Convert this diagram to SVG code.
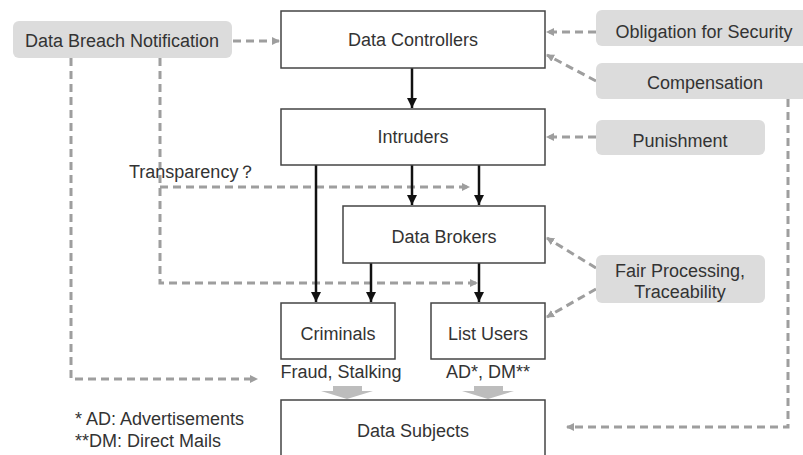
<svg xmlns="http://www.w3.org/2000/svg" width="803" height="455" viewBox="0 0 803 455">
<style>
text{font-family:"Liberation Sans",Arial,sans-serif;font-size:18px;fill:#333;}
.m{text-anchor:middle;}
.box{fill:#fff;stroke:#444;stroke-width:1.5;}
.tag{fill:#dcdcdc;stroke:none;}
.dash{fill:none;stroke:#9e9e9e;stroke-width:3;stroke-dasharray:8 5;}
.solid{fill:none;stroke:#111;stroke-width:2.5;}
.blk{fill:#bdbdbd;}
</style>
<defs>
<marker id="ga" markerWidth="10" markerHeight="10" refX="7" refY="4" orient="auto" markerUnits="userSpaceOnUse">
<path d="M0,0 L8,4 L0,8 Z" fill="#9e9e9e"/>
</marker>
<marker id="ba" markerWidth="12" markerHeight="12" refX="10" refY="5" orient="auto" markerUnits="userSpaceOnUse">
<path d="M0,0 L10,5 L0,10 Z" fill="#111"/>
</marker>
</defs>
<rect width="803" height="455" fill="#fff"/>

<g id="connectors">
<path class="dash" d="M233,41 H279" marker-end="url(#ga)"/>
<path class="dash" d="M596,32 H547" marker-end="url(#ga)"/>
<path class="dash" d="M596,81 L547,55" marker-end="url(#ga)"/>
<path class="dash" d="M596,137 H547" marker-end="url(#ga)"/>
<path class="dash" d="M788,99 V427 H567" marker-end="url(#ga)"/>
<path class="dash" d="M71,58 V379 H257" marker-end="url(#ga)"/>
<path class="dash" d="M160,58 V283 H477" marker-end="url(#ga)"/>
<path class="dash" d="M160,187 H469" marker-end="url(#ga)"/>
<path class="dash" d="M596,268 L547,238" marker-end="url(#ga)"/>
<path class="dash" d="M596,289 L547,317" marker-end="url(#ga)"/>
<path class="solid" d="M412,68 V108" marker-end="url(#ba)"/>
<path class="solid" d="M412,165 V205" marker-end="url(#ba)"/>
<path class="solid" d="M479,165 V205" marker-end="url(#ba)"/>
<path class="solid" d="M316,165 V302" marker-end="url(#ba)"/>
<path class="solid" d="M371,263 V302" marker-end="url(#ba)"/>
<path class="solid" d="M479,263 V302" marker-end="url(#ba)"/>
<path class="blk" d="M333,386 H362 V391 H373 L347,399 L321,391 H333 Z"/>
<path class="blk" d="M474,386 H503 V391 H514 L488,399 L462,391 H474 Z"/>
</g>

<g id="data-breach-notification">
<rect class="tag" x="13" y="21" width="219" height="37" rx="6"/>
<text class="m" x="122" y="47">Data Breach Notification</text>
</g>
<g id="data-controllers">
<rect class="box" x="281" y="11" width="264" height="57"/>
<text class="m" x="413" y="46">Data Controllers</text>
</g>
<g id="obligation-for-security">
<rect class="tag" x="596" y="10" width="212" height="36" rx="6"/>
<text class="m" x="704" y="38">Obligation for Security</text>
</g>
<g id="compensation">
<rect class="tag" x="596" y="63" width="212" height="36" rx="6"/>
<text class="m" x="705" y="89">Compensation</text>
</g>
<g id="intruders">
<rect class="box" x="281" y="109" width="264" height="56"/>
<text class="m" x="413" y="143">Intruders</text>
</g>
<g id="punishment">
<rect class="tag" x="596" y="120" width="169" height="35" rx="6"/>
<text class="m" x="680" y="147">Punishment</text>
</g>
<g id="transparency">
<text x="129" y="178">Transparency？</text>
</g>
<g id="data-brokers">
<rect class="box" x="343" y="206" width="202" height="57"/>
<text class="m" x="444" y="243">Data Brokers</text>
</g>
<g id="fair-processing">
<rect class="tag" x="596" y="255" width="169" height="48" rx="6"/>
<text class="m" x="680" y="277">Fair Processing,</text>
<text class="m" x="680" y="298">Traceability</text>
</g>
<g id="criminals">
<rect class="box" x="281" y="303" width="114" height="56"/>
<text class="m" x="338" y="340">Criminals</text>
</g>
<g id="list-users">
<rect class="box" x="431" y="303" width="114" height="56"/>
<text class="m" x="488" y="340">List Users</text>
</g>
<g id="labels">
<text class="m" x="341" y="378">Fraud, Stalking</text>
<text class="m" x="488" y="378">AD*, DM**</text>
<text x="75" y="425">* AD: Advertisements</text>
<text x="75" y="447">**DM: Direct Mails</text>
</g>
<g id="data-subjects">
<rect class="box" x="281" y="400" width="264" height="60"/>
<text class="m" x="413" y="437">Data Subjects</text>
</g>
</svg>
